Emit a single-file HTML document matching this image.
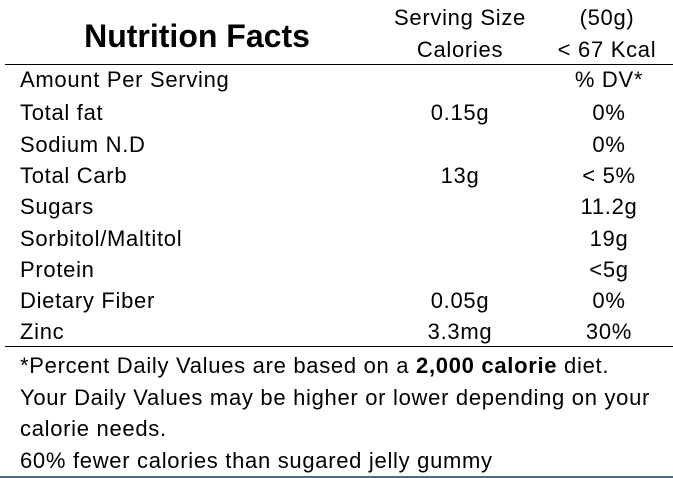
<!DOCTYPE html>
<html><head><meta charset="utf-8"><style>
body{margin:0;width:673px;height:478px;background:#fff;position:relative;overflow:hidden;font-family:"Liberation Sans",sans-serif;color:#000}
.t{position:absolute;font-size:22px;line-height:24px;white-space:nowrap;letter-spacing:0.7px}
.c{transform:translateX(-50%)}
.l{position:absolute;left:5px;right:0;height:1px;background:#000}
</style></head><body>
<div class="t c" style="left:197px;top:19px;font-size:32px;font-weight:bold;line-height:34px;letter-spacing:0">Nutrition Facts</div>
<div class="t c" style="left:460px;top:6px">Serving Size</div>
<div class="t c" style="left:607px;top:6px">(50g)</div>
<div class="t c" style="left:460px;top:38px">Calories</div>
<div class="t c" style="left:607px;top:38px">&lt; 67 Kcal</div>
<div class="l" style="top:64px"></div>

<div class="t" style="left:20px;top:68px">Amount Per Serving</div><div class="t c" style="left:609px;top:68px">% DV*</div>
<div class="t" style="left:20px;top:101px">Total fat</div><div class="t c" style="left:460px;top:101px">0.15g</div><div class="t c" style="left:609px;top:101px">0%</div>
<div class="t" style="left:20px;top:133px">Sodium N.D</div><div class="t c" style="left:609px;top:133px">0%</div>
<div class="t" style="left:20px;top:164px">Total Carb</div><div class="t c" style="left:460px;top:164px">13g</div><div class="t c" style="left:609px;top:164px">&lt; 5%</div>
<div class="t" style="left:20px;top:195px">Sugars</div><div class="t c" style="left:609px;top:195px">11.2g</div>
<div class="t" style="left:20px;top:227px">Sorbitol/Maltitol</div><div class="t c" style="left:609px;top:227px">19g</div>
<div class="t" style="left:20px;top:258px">Protein</div><div class="t c" style="left:609px;top:258px">&lt;5g</div>
<div class="t" style="left:20px;top:289px">Dietary Fiber</div><div class="t c" style="left:460px;top:289px">0.05g</div><div class="t c" style="left:609px;top:289px">0%</div>
<div class="t" style="left:20px;top:320px">Zinc</div><div class="t c" style="left:460px;top:320px">3.3mg</div><div class="t c" style="left:609px;top:320px">30%</div>
<div class="l" style="top:346px"></div>

<div class="t" style="left:20px;top:354px">*Percent Daily Values are based on a <b>2,000 calorie</b> diet.</div>
<div class="t" style="left:20px;top:386px">Your Daily Values may be higher or lower depending on your</div>
<div class="t" style="left:20px;top:417px">calorie needs.</div>
<div class="t" style="left:20px;top:449px">60% fewer calories than sugared jelly gummy</div>
<div class="l" style="top:476px;left:0;height:2px;background:#4a6a8a"></div>
</body></html>
